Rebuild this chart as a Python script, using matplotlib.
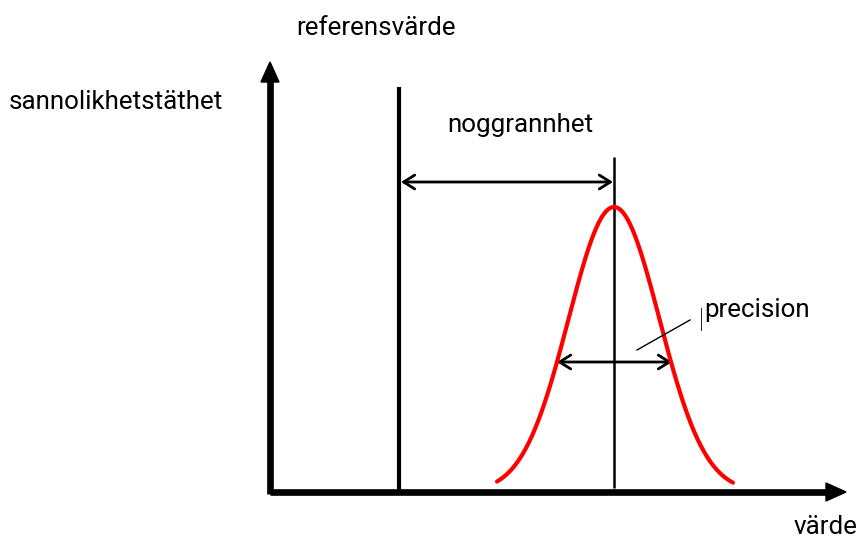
import numpy as np
import matplotlib
matplotlib.use("Agg")
import matplotlib.pyplot as plt
from matplotlib.patches import FancyArrowPatch

# --- diagram values (in image pixel units) ---
axis_origin = (270, 492)
x_axis_end = 846
y_axis_end = 62
reference_x = 399
reference_top = 87
mean_x = 614
mean_top = 157
mean_bottom = 488
peak_height = 285        # peak of density above x-axis
sigma = 45.5
curve_range = (497, 733)
accuracy_arrow_y = 182
precision_arrow = (557, 672, 362)
labels = {
    "referensvärde": (296, 28),
    "sannolikhetstäthet": (9, 102),
    "noggrannhet": (447, 125),
    "precision": (704, 310),
    "värde": (794, 527),
}

fig = plt.figure(figsize=(8.61, 5.39), dpi=100)
ax = fig.add_axes([0, 0, 1, 1])
ax.set_xlim(0, 861)
ax.set_ylim(539, 0)
ax.axis("off")

ox, oy = axis_origin
# axes with filled arrowheads
ax.plot([ox, x_axis_end - 18], [oy, oy], color="black", lw=4.8, solid_capstyle="butt")
ax.plot([ox, ox], [oy + 2, y_axis_end + 18], color="black", lw=4.8, solid_capstyle="butt")
ax.fill([x_axis_end - 20, x_axis_end, x_axis_end - 20], [oy - 9, oy, oy + 9], color="black")
ax.fill([ox - 9, ox, ox + 9], [y_axis_end + 20, y_axis_end, y_axis_end + 20], color="black")

# reference line
ax.plot([reference_x, reference_x], [reference_top, oy], color="black", lw=3, solid_capstyle="butt")
# mean line
ax.plot([mean_x, mean_x], [mean_top, mean_bottom], color="black", lw=1.8, solid_capstyle="butt")

# gaussian curve
xs = np.linspace(curve_range[0], curve_range[1], 300)
ys = oy - peak_height * np.exp(-(xs - mean_x) ** 2 / (2 * sigma ** 2))
ax.plot(xs, ys, color="#ff0000", lw=3, solid_capstyle="round")

# accuracy arrow
ax.add_patch(FancyArrowPatch((reference_x + 2, accuracy_arrow_y), (mean_x - 1, accuracy_arrow_y),
                             arrowstyle="<->,head_length=8,head_width=5", color="black", lw=2,
                             shrinkA=0, shrinkB=0))
# precision arrow
px0, px1, py = precision_arrow
ax.add_patch(FancyArrowPatch((px0, py), (px1, py),
                             arrowstyle="<->,head_length=8,head_width=5", color="black", lw=2,
                             shrinkA=0, shrinkB=0))
# leader line
ax.plot([637, 690], [350, 320], color="black", lw=1)
ax.plot([701, 701], [308, 330], color="black", lw=0.6)

font = dict(family="Roboto", fontsize=18.7, color="black", va="center", ha="left")
for txt, (tx, ty) in labels.items():
    ax.text(tx, ty, txt, **font)

fig.savefig("out.png", dpi=100)
